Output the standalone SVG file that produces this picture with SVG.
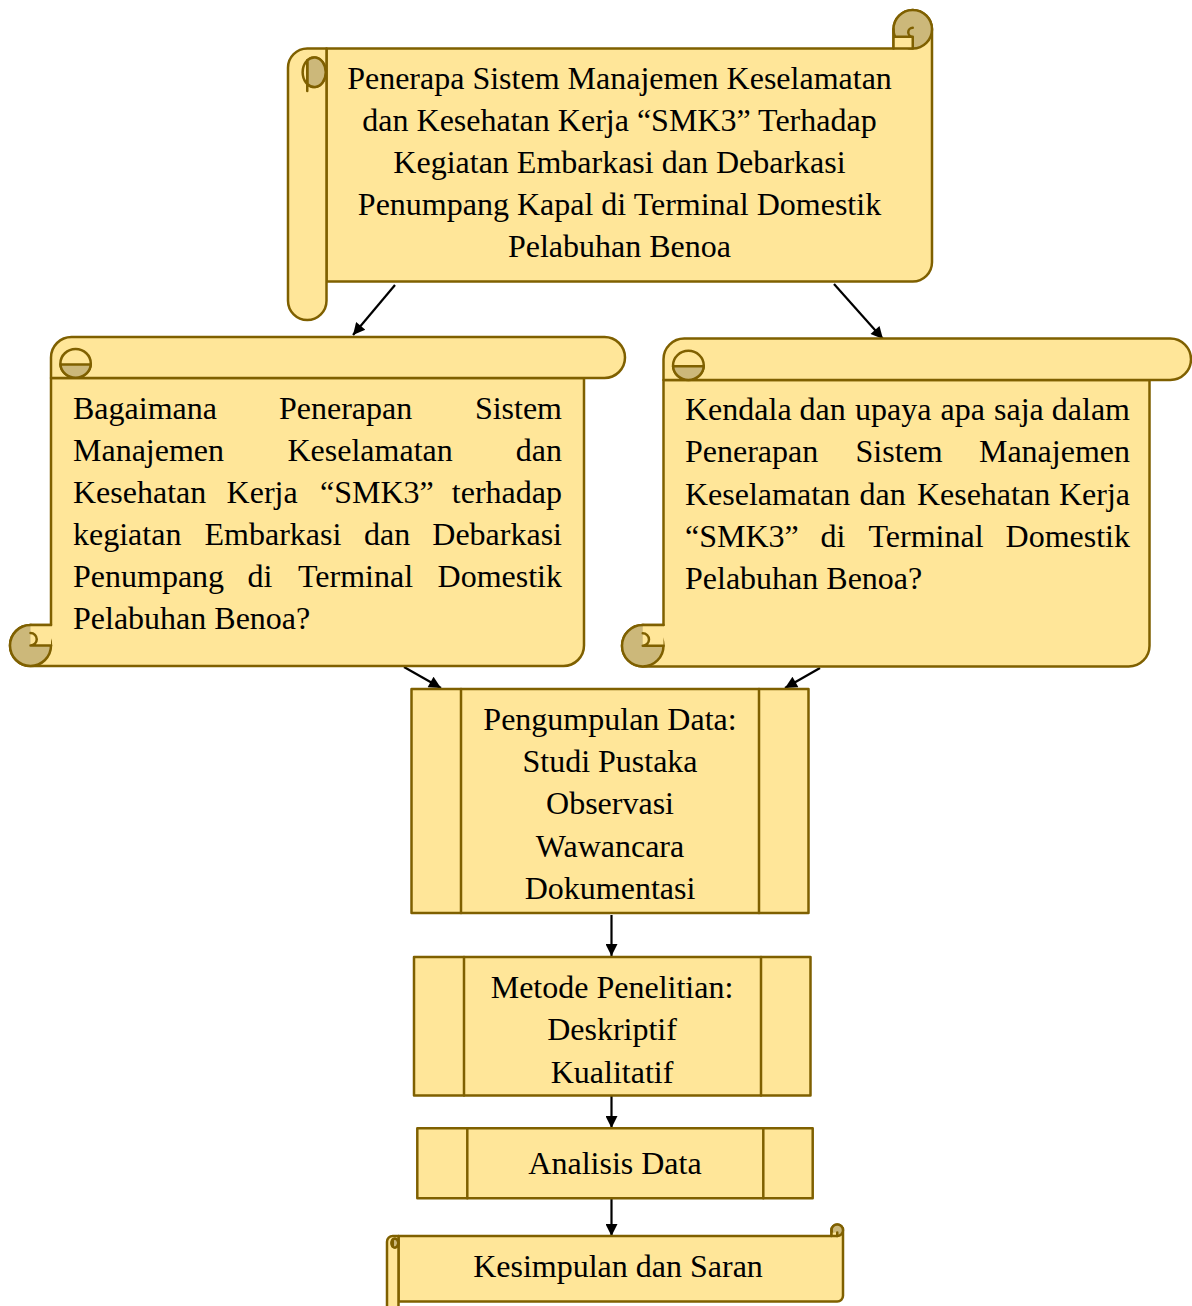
<svg xmlns="http://www.w3.org/2000/svg" width="1192" height="1306" viewBox="0 0 1192 1306">
<style>
.lt{fill:#FFE699;stroke:#7F6000;stroke-width:2.5;stroke-linejoin:round}
.lf{fill:#FFE699;stroke:none}
.dk{fill:#CCB87A;stroke:#7F6000;stroke-width:2.5;stroke-linejoin:round}
.ln{fill:none;stroke:#7F6000;stroke-width:2.5;stroke-linejoin:round;stroke-linecap:round}
.t{font-family:"Liberation Serif","Times New Roman",serif;font-size:32px;fill:#000}
.c{text-anchor:middle}
.e{text-anchor:end}
.ar{stroke:#000;stroke-width:2.2;fill:none;marker-end:url(#ah)}
</style>
<defs>
<marker id="ah" viewBox="0 0 10 10" refX="10" refY="5" markerWidth="15" markerHeight="12" markerUnits="userSpaceOnUse" orient="auto">
<path d="M0,0 L10,5 L0,10 Z" fill="#000"/>
</marker>
</defs>

<g id="connectors">
<line class="ar" x1="395" y1="285" x2="353" y2="335"/>
<line class="ar" x1="834" y1="284" x2="883" y2="339"/>
<line class="ar" x1="404" y1="667" x2="441" y2="688"/>
<line class="ar" x1="820" y1="668" x2="785" y2="688"/>
<line class="ar" x1="611.5" y1="915" x2="611.5" y2="956"/>
<line class="ar" x1="611.5" y1="1096" x2="611.5" y2="1128"/>
<line class="ar" x1="611.5" y1="1198" x2="611.5" y2="1236"/>
</g>

<g id="node-judul">
<path class="lt" d="M326.5,48.5 H893.5 V29.25 A19.25,19.25 0 0 1 932,29.25 V262.25 A19.25,19.25 0 0 1 912.75,281.5 H326.5 Z"/>
<circle class="dk" cx="912.75" cy="29.25" r="19.25"/>
<rect class="lf" x="893.5" y="36.75" width="19.25" height="11.75"/>
<path class="ln" d="M893.5,29.25 V48.5 H912.75 M893.5,36.75 H912.75 M912.75,48.5 V36.75 A4.5,4.5 0 0 1 912.75,27.75"/>
<path class="lt" d="M307.25,48.5 H326.5 V300.75 A19.25,19.25 0 0 1 288,300.75 V67.75 A19.25,19.25 0 0 1 307.25,48.5 Z"/>
<ellipse class="lt" cx="314.2" cy="72.2" rx="11.55" ry="14.8"/>
<path class="dk" d="M307.25,60.4 A11.55,14.8 0 1 1 307.25,84 Z"/>
<path class="ln" d="M307.25,60.4 V91"/>
<text class="t c" x="619.5" y="88.5">Penerapa Sistem Manajemen Keselamatan</text>
<text class="t c" x="619.5" y="130.5">dan Kesehatan Kerja “SMK3” Terhadap</text>
<text class="t c" x="619.5" y="172.5">Kegiatan Embarkasi dan Debarkasi</text>
<text class="t c" x="619.5" y="214.5">Penumpang Kapal di Terminal Domestik</text>
<text class="t c" x="619.5" y="256.5">Pelabuhan Benoa</text>
</g>

<g id="node-rumusan-1">
<path class="lt" d="M51,378 V625 H30.5 A20.5,20.5 0 0 0 30.5,666 H563.5 A20.5,20.5 0 0 0 584,645.5 V378 Z"/>
<circle class="dk" cx="30.5" cy="645.5" r="20.5"/>
<rect class="lf" x="30.5" y="625" width="20.5" height="20.5"/>
<path class="ln" d="M30.5,625 H51 M30.5,633 A6.25,6.25 0 0 1 30.5,645.5 H51"/>
<path class="lt" d="M51,357.5 V378 H604.5 A20.5,20.5 0 0 0 604.5,337 H71.5 A20.5,20.5 0 0 0 51,357.5 Z"/>
<ellipse class="lt" cx="75.6" cy="363.4" rx="15.2" ry="14.35"/>
<path class="dk" d="M60.45,364.5 A15.2,14.35 0 0 0 90.75,364.5 Z"/>
<text class="t" y="418.5"><tspan x="73">Bagaimana</tspan><tspan x="279">Penerapan</tspan><tspan x="562" class="e">Sistem</tspan></text>
<text class="t" y="460.5"><tspan x="73">Manajemen</tspan><tspan x="287.5">Keselamatan</tspan><tspan x="562" class="e">dan</tspan></text>
<text class="t" y="502.5"><tspan x="73">Kesehatan</tspan><tspan x="226.6">Kerja</tspan><tspan x="320">“SMK3”</tspan><tspan x="562" class="e">terhadap</tspan></text>
<text class="t" y="545"><tspan x="73">kegiatan</tspan><tspan x="204.5">Embarkasi</tspan><tspan x="364">dan</tspan><tspan x="562" class="e">Debarkasi</tspan></text>
<text class="t" y="587"><tspan x="73">Penumpang</tspan><tspan x="247.6">di</tspan><tspan x="298">Terminal</tspan><tspan x="562" class="e">Domestik</tspan></text>
<text class="t" x="73" y="629">Pelabuhan Benoa?</text>
</g>

<g id="node-rumusan-2">
<path class="lt" d="M663.5,380 V625 H642.75 A20.75,20.75 0 0 0 642.75,666.5 H1128.75 A20.75,20.75 0 0 0 1149.5,645.75 V380 Z"/>
<circle class="dk" cx="642.75" cy="645.75" r="20.75"/>
<rect class="lf" x="642.75" y="625" width="20.75" height="20.75"/>
<path class="ln" d="M642.75,625 H663.5 M642.75,633.3 A6.225,6.225 0 0 1 642.75,645.75 H663.5"/>
<path class="lt" d="M663.5,359.25 V380 H1170.25 A20.75,20.75 0 0 0 1170.25,338.5 H684.25 A20.75,20.75 0 0 0 663.5,359.25 Z"/>
<ellipse class="lt" cx="688.4" cy="365.3" rx="15.36" ry="14.5"/>
<path class="dk" d="M673.07,366.3 A15.36,14.5 0 0 0 703.73,366.3 Z"/>
<text class="t" y="420"><tspan x="685">Kendala</tspan><tspan x="799.5">dan</tspan><tspan x="855">upaya</tspan><tspan x="940.5">apa</tspan><tspan x="994">saja</tspan><tspan x="1130" class="e">dalam</tspan></text>
<text class="t" y="462"><tspan x="685">Penerapan</tspan><tspan x="855.5">Sistem</tspan><tspan x="1130" class="e">Manajemen</tspan></text>
<text class="t" y="504.5"><tspan x="685">Keselamatan</tspan><tspan x="859.6">dan</tspan><tspan x="916.9">Kesehatan</tspan><tspan x="1130" class="e">Kerja</tspan></text>
<text class="t" y="546.5"><tspan x="685">“SMK3”</tspan><tspan x="820.5">di</tspan><tspan x="868.5">Terminal</tspan><tspan x="1130" class="e">Domestik</tspan></text>
<text class="t" x="685" y="588.5">Pelabuhan Benoa?</text>
</g>

<g id="node-pengumpulan-data">
<rect class="lt" x="411.5" y="689" width="397" height="224"/>
<path class="ln" d="M461,689 V913 M759,689 V913"/>
<text class="t c" x="610" y="730">Pengumpulan Data:</text>
<text class="t c" x="610" y="772">Studi Pustaka</text>
<text class="t c" x="610" y="814">Observasi</text>
<text class="t c" x="610" y="856.5">Wawancara</text>
<text class="t c" x="610" y="898.5">Dokumentasi</text>
</g>

<g id="node-metode">
<rect class="lt" x="414" y="957" width="396.5" height="138.5"/>
<path class="ln" d="M464,957 V1095.5 M761,957 V1095.5"/>
<text class="t c" x="612" y="998">Metode Penelitian:</text>
<text class="t c" x="612" y="1040">Deskriptif</text>
<text class="t c" x="612" y="1082.5">Kualitatif</text>
</g>

<g id="node-analisis">
<rect class="lt" x="417.3" y="1128.3" width="395.4" height="70"/>
<path class="ln" d="M467.3,1128.3 V1198.3 M763.3,1128.3 V1198.3"/>
<text class="t c" x="615" y="1173.5">Analisis Data</text>
</g>

<g id="node-kesimpulan">
<path class="lt" d="M398.5,1236 H831.5 V1230.25 A5.75,5.75 0 0 1 843,1230.25 V1295.75 A5.75,5.75 0 0 1 837.25,1301.5 H398.5 Z"/>
<circle class="dk" cx="837.25" cy="1230.25" r="5.75"/>
<rect class="lf" x="831.5" y="1232.5" width="5.75" height="3.5"/>
<path class="ln" d="M831.5,1230.25 V1236 H837.25 M837.25,1236 V1232.5"/>
<path class="lt" d="M392.75,1236 H398.5 V1307.25 A5.75,5.75 0 0 1 387,1307.25 V1241.75 A5.75,5.75 0 0 1 392.75,1236 Z"/>
<ellipse class="lt" cx="394.8" cy="1243.1" rx="3.45" ry="4.43"/>
<path class="dk" d="M392.75,1239.5 A3.45,4.43 0 1 1 392.75,1246.7 Z"/>
<text class="t c" x="618" y="1276.5">Kesimpulan dan Saran</text>
</g>
</svg>
